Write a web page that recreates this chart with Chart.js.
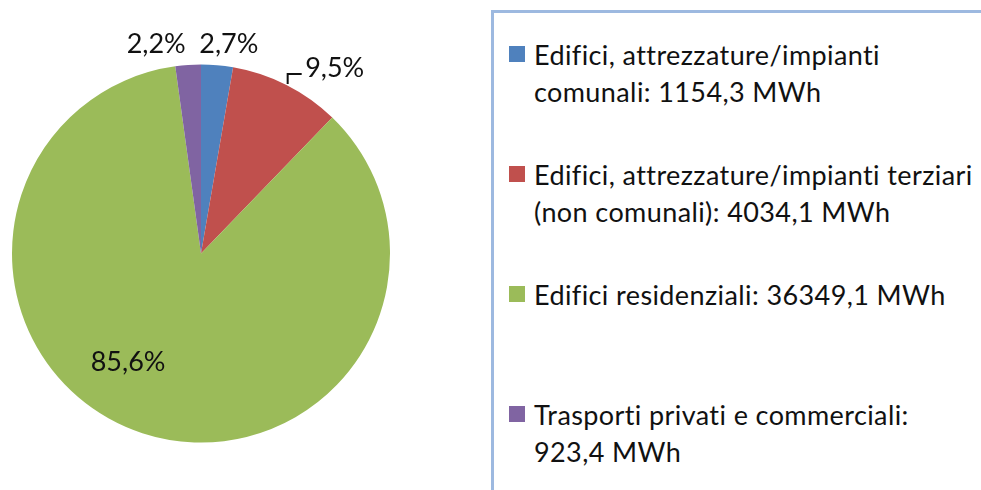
<!DOCTYPE html>
<html>
<head>
<meta charset="utf-8">
<script src="https://cdn.jsdelivr.net/npm/chart.js@4"></script>
<style>
  body { margin: 0; width: 981px; height: 490px; overflow: hidden; background: #fff; font-family: Lato, sans-serif; }
  #pieWrap { position: absolute; left: 0; top: 0; width: 420px; height: 490px; }
  #legendBox { position: absolute; left: 491px; top: 10px; width: 520px; height: 520px; border: 3px solid #9DB9E0; box-sizing: border-box; }
  .item { position: absolute; left: 14px; width: 480px; font-size: 27px; letter-spacing: 0.4px; line-height: 37px; color: #111; white-space: nowrap; }
  .item .sq { position: absolute; left: 1px; top: 10px; width: 16px; height: 16px; }
  .item .txt { margin-left: 26px; }
</style>
</head>
<body>
<div id="pieWrap"><canvas id="chartConsumi"></canvas></div>
<div id="legendBox"></div>
<script>
const categorie = [
  "Edifici, attrezzature/impianti comunali",
  "Edifici, attrezzature/impianti terziari (non comunali)",
  "Edifici residenziali",
  "Trasporti privati e commerciali"
];
const consumiMWh = [1154.3, 4034.1, 36349.1, 923.4];
const percentuali = ["2,7%", "9,5%", "85,6%", "2,2%"];
const etichetteLegenda = [
  ["Edifici, attrezzature/impianti", "comunali: 1154,3 MWh"],
  ["Edifici, attrezzature/impianti terziari", "(non comunali): 4034,1 MWh"],
  ["Edifici residenziali: 36349,1 MWh"],
  ["Trasporti privati e commerciali:", "923,4 MWh"]
];
const colori = ["#4F81BD", "#C0504D", "#9BBB59", "#8064A2"];

// legenda html
const box = document.getElementById("legendBox");
etichetteLegenda.forEach((righe, i) => {
  const div = document.createElement("div");
  div.className = "item";
  div.style.top = (23 + i * 120) + "px";
  div.innerHTML = '<span class="sq" style="background:' + colori[i] + '"></span>' +
    '<div class="txt">' + righe.join("<br>") + '</div>';
  box.appendChild(div);
});

// etichette percentuali
const etichettePlugin = {
  id: "etichette",
  afterDatasetsDraw(chart) {
    const ctx = chart.ctx;
    const meta = chart.getDatasetMeta(0);
    ctx.save();
    ctx.font = "27px Lato, sans-serif";
    ctx.fillStyle = "#111";
    ctx.textAlign = "center";
    ctx.textBaseline = "middle";
    // spostamenti per evitare sovrapposizioni (come nell'originale)
    const extra = [
      { r: 1.116, da: 0.047 },
      { r: 1.21, da: 0.155 },
      { r: 0.694, da: 0.274 },
      { r: 1.13, da: -0.143 }
    ];
    meta.data.forEach((arc, i) => {
      const p = arc.getProps(["x", "y", "startAngle", "endAngle", "outerRadius"], true);
      const mid = (p.startAngle + p.endAngle) / 2 + extra[i].da;
      const rr = p.outerRadius * extra[i].r;
      const x = p.x + Math.cos(mid) * rr;
      const y = p.y + Math.sin(mid) * rr;
      ctx.fillText(percentuali[i], x, y);
      if (i === 1) {
        ctx.strokeStyle = "#111";
        ctx.lineWidth = 2;
        ctx.beginPath();
        ctx.moveTo(x - 47, y + 16);
        ctx.lineTo(x - 47, y + 6);
        ctx.lineTo(x - 33, y + 6);
        ctx.stroke();
      }
    });
    ctx.restore();
  }
};

new Chart(document.getElementById("chartConsumi"), {
  type: "pie",
  data: {
    labels: categorie,
    datasets: [{
      data: consumiMWh,
      backgroundColor: colori,
      borderWidth: 0
    }]
  },
  options: {
    responsive: true,
    maintainAspectRatio: false,
    animation: false,
    layout: { padding: { left: 12, top: 64, right: 30, bottom: 47 } },
    plugins: {
      legend: { display: false },
      tooltip: { enabled: false }
    }
  },
  plugins: [etichettePlugin]
});
</script>
</body>
</html>
